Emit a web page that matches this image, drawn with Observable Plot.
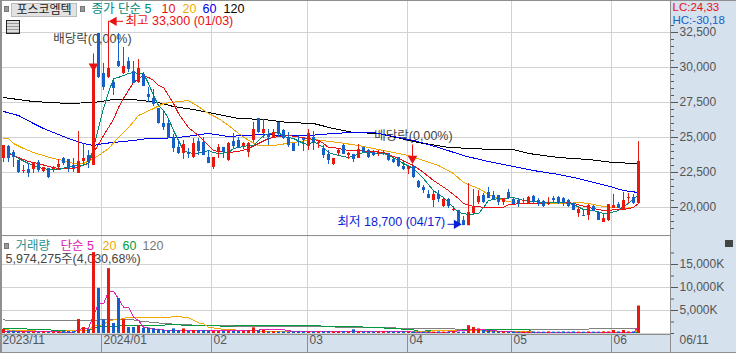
<!DOCTYPE html>
<html>
<head>
<meta charset="utf-8">
<script src="https://cdn.jsdelivr.net/npm/d3@7"></script>
<script src="https://cdn.jsdelivr.net/npm/@observablehq/plot@0.6"></script>
<style>
html,body{margin:0;padding:0;background:#d6e1ee;}
#wrap{position:relative;width:736px;height:353px;overflow:hidden;font-family:"Liberation Sans","Noto Sans CJK KR",sans-serif;}
#wrap svg{display:block;font-family:"Liberation Sans","Noto Sans CJK KR",sans-serif;}
.ov{position:absolute;box-sizing:border-box;}
</style>
</head>
<body>
<div id="wrap"></div>
<script>
const opens=[23500,24360,23930,23360,22570,22710,22710,23210,22570,22790,
22710,22860,23500,23430,23000,22430,23290,23710,23000,32430,
29570,29290,28930,30430,29570,30430,29710,28930,29500,28070,
27790,27070,26000,26000,25000,24290,23860,23930,23570,24710,
24640,23570,22860,23930,24290,23360,24710,24790,24360,23930,
24790,26360,25290,25210,25000,26070,25500,25000,24570,24710,
24930,24360,25000,24570,24210,23790,23070,23860,24430,23710,
23790,23500,24290,24070,23930,23790,23860,23860,23430,23570,
22930,22710,22930,21860,21430,20930,20500,20930,20070,20570,
19790,19790,19070,18700,19570,20360,20860,21070,20860,20860,
20360,21070,20570,20500,20430,20290,20790,20500,20430,20210,
20640,20710,20640,20500,20290,19570,19430,19430,20070,19640,
18930,19070,19930,20210,19790,20640,20710,20290];
const closes=[24430,23500,23570,22500,22640,22430,23140,22640,22860,22140,
22790,23070,23140,22790,22790,23290,23500,23210,29930,29290,
28570,29930,28500,30070,30070,29860,28860,29930,28640,27860,
27360,26000,25710,24930,24210,23860,24500,23790,24570,24000,
23710,23140,23570,24290,23930,24570,24360,24290,24570,24570,
25570,25360,25570,25000,25360,25210,24930,24430,24000,24640,
24790,25290,24640,24640,23710,23360,23500,24070,23790,23860,
23430,24140,23930,23570,23710,23860,23930,23360,23210,22930,
22710,22930,22140,21430,21210,20640,20930,20570,20570,20070,
19860,18710,18710,19640,20070,20790,20360,20640,20570,20360,
20640,20640,20210,20290,20500,20710,20360,20290,20070,20360,
20500,20290,20290,20070,19790,19860,19360,20140,19710,19070,
19210,20210,20140,19930,20500,20710,20290,23290];
const highs=[24430,24430,24070,23360,23000,23140,23210,23360,22860,22790,
22930,23430,23570,23430,23500,25430,24570,24070,29930,32430,
30290,33300,29210,32430,31430,30710,30430,30570,29640,28570,
28430,27070,26930,26210,25210,24790,24790,24210,24930,24930,
25000,24070,23570,24500,24290,24640,25290,25000,24640,24640,
26070,26360,26290,25570,25570,26070,25570,25360,24570,25140,
25000,25570,25430,24790,24430,24070,23500,24140,24500,23930,
23790,24500,24290,24140,24070,24070,24070,23860,23570,23570,
23360,22930,22930,21930,21570,21210,21210,21210,20640,20640,
20070,19790,19360,21710,21290,21210,21000,21430,21140,20860,
20640,21290,20640,20640,20640,20790,20860,20640,20500,20710,
20790,20790,20710,20570,20290,20000,19790,20210,20140,19710,
19500,20210,20930,20360,21070,21000,20930,24710];
const lows=[23210,23210,22860,22430,22430,22140,22430,22500,22500,22070,
22500,22640,23000,22500,22500,22430,22930,22790,23000,29210,
28360,29210,28000,30000,29500,29640,28860,28860,28640,27500,
27210,25950,25500,24930,23930,23790,23430,23500,23500,23710,
23710,23140,22710,23500,23500,23290,24210,24210,24140,23570,
24640,25290,24930,24430,24930,25000,24860,24290,24000,24360,
24000,24070,24070,24210,23500,23070,23000,23710,23790,23430,
23210,23500,23860,23500,23640,23640,23710,23290,23140,22860,
22640,22360,22070,21360,21000,20640,20000,20360,20000,19930,
19710,18700,18700,18700,19430,20210,20290,20640,20500,20140,
20140,20570,20140,20000,20290,20210,20290,20070,20000,20140,
20290,20210,20070,20000,19790,19290,19360,19070,19710,19070,
18930,19000,19930,19930,19790,20290,20210,20290];
const volumes=[870,540,500,400,300,300,300,300,300,250,
300,300,400,450,400,3040,1300,870,17600,9800,
3000,14100,2170,7600,3000,1300,1300,1700,1100,1200,
1000,900,650,650,1000,650,1000,500,650,650,
650,500,430,430,430,430,430,430,430,650,
1230,650,650,350,400,350,350,300,350,400,
350,350,300,350,350,400,300,350,350,300,
800,350,300,350,300,350,300,350,300,300,
350,300,350,300,300,350,300,350,300,300,
350,300,300,1700,1300,1000,650,650,400,350,
350,300,350,300,300,350,350,300,300,350,
300,300,350,300,350,300,300,350,300,300,
350,350,650,350,650,350,350,5974];

const ma5=[[1,23930],[3,23500],[5,23140],[7,22860],[9,22710],[11,22710],[14,23000],[16,23000],[17,23210],[18,24210],[19,25710],[20,27070],[21,28210],[22,29210],[23,29290],[24,29430],[25,29570],[26,29640],[27,29570],[28,29570],[29,28860],[30,28000],[31,27290],[32,26930],[33,26360],[34,25500],[35,24790],[36,24070],[37,23930],[38,23860],[40,23930],[41,24070],[42,23930],[43,23860],[45,23930],[46,24210],[47,24290],[48,24360],[49,24430],[50,24430],[52,25140],[54,25360],[55,25360],[56,25070],[58,24930],[60,24570],[61,24500],[62,24710],[64,24290],[65,23930],[67,23710],[69,23570],[72,23930],[76,23860],[78,23570],[80,23140],[82,22790],[84,22070],[86,21210],[88,20710],[90,20000],[91,19640],[93,19500],[95,19570],[96,20000],[97,20500],[99,20640],[100,20640],[102,20710],[104,20500],[106,20430],[108,20360],[110,20360],[112,20360],[114,20210],[116,19860],[118,19790],[120,19570],[121,19570],[123,19790],[124,20070],[125,20290],[126,20640],[127,20860]];
const ma10=[[1,23860],[3,23570],[5,23290],[7,23140],[9,22930],[11,22790],[14,22790],[17,23140],[18,23930],[19,24500],[20,25140],[21,25710],[22,26290],[23,27140],[24,27790],[25,28360],[26,28930],[28,29430],[29,29290],[30,29070],[31,28710],[32,28570],[34,27430],[35,26710],[37,25710],[39,25140],[41,24430],[42,24070],[43,24000],[45,23930],[47,24000],[49,24210],[51,24570],[53,24930],[55,25070],[57,25140],[61,24930],[63,24790],[64,24570],[65,24290],[66,24290],[69,24070],[71,24070],[76,23930],[79,23500],[82,23000],[84,22500],[86,21930],[89,21210],[91,20640],[92,20290],[94,20070],[97,20000],[100,20000],[101,20210],[104,20290],[113,20360],[114,20290],[117,20000],[120,19790],[124,19860],[126,20000],[127,20290]];
const ma20=[[0,24930],[1,24930],[2,24570],[4,24210],[6,23930],[8,23710],[10,23500],[12,23360],[14,23140],[16,23140],[18,23500],[19,23710],[21,24210],[23,25000],[25,25710],[27,26570],[30,27070],[32,27430],[35,27570],[37,27640],[39,27210],[41,26710],[43,26360],[45,25860],[47,25290],[49,24790],[51,24430],[54,24430],[58,24640],[62,24860],[67,24640],[71,24430],[76,24070],[81,23710],[84,23360],[87,23000],[90,22430],[92,21790],[95,21360],[97,20930],[100,20500],[103,20290],[113,20290],[115,20360],[117,20290],[120,20070],[124,19930],[126,20000],[127,20290]];
const ma60=[[0,26860],[3,26570],[6,26000],[8,25640],[10,25360],[13,24930],[16,24570],[18,24430],[20,24570],[26,24790],[29,24930],[31,24930],[35,25000],[38,25140],[41,25290],[45,25070],[48,25140],[51,25210],[57,25140],[61,25140],[66,25290],[70,25360],[74,25360],[82,24790],[87,24290],[92,23710],[96,23360],[99,23140],[102,22930],[106,22640],[111,22360],[115,22070],[119,21710],[122,21430],[124,21210],[127,21070]];
const ma120=[[0,27860],[3,27710],[6,27570],[13,27430],[18,27500],[22,27710],[26,27710],[31,27500],[34,27210],[38,27000],[41,26790],[47,26360],[52,26290],[57,26070],[62,26000],[66,25640],[70,25360],[75,25290],[83,24640],[89,24290],[98,24140],[102,24140],[105,23860],[111,23570],[117,23430],[122,23210],[127,23140]];

const vol5=[[0,500],[3,435],[14,290],[16,1160],[17,1160],[18,3900],[19,6450],[20,6450],[21,9000],[22,9200],[23,7540],[24,5730],[25,5730],[26,3550],[27,2830],[28,1380],[29,1160],[31,870],[33,650],[36,650],[42,650],[48,600],[50,700],[52,800],[56,800],[58,430],[70,430],[72,500],[80,350],[88,220],[93,800],[96,800],[98,600],[102,300],[126,250],[127,1400]];
const vol20=[[0,870],[2,650],[5,650],[8,435],[17,650],[18,1740],[20,1885],[21,2830],[23,3045],[25,3550],[33,3550],[35,3700],[37,3400],[39,2320],[40,2100],[41,1380],[43,1015],[48,650],[56,360],[73,360],[93,650],[97,500],[105,500],[106,290],[126,290],[127,700]];
const vol60=[[0,1160],[4,1160],[5,870],[9,870],[10,650],[17,725],[19,1450],[25,1740],[35,1885],[37,1740],[45,1600],[50,1740],[60,1740],[62,1670],[73,1380],[78,1090],[82,800],[83,500],[93,800],[97,870],[105,870],[106,290],[127,290]];
const vol120=[[0,2970],[1,2830],[17,2830],[21,3045],[26,2970],[28,2600],[33,2100],[41,1670],[60,1520],[77,1230],[87,1015],[97,900],[127,1015]];

const monthAt=[19.6,41.6,60.8,80.8,101.6,121.6];
const monthLabels=["2024/01","02","03","04","05","06"];
const priceTicks=[20000,22500,25000,27500,30000,32500];
const priceMinor=[18500,19000,19500,20500,21000,21500,22000,23000,23500,24000,24500,25500,26000,26500,27000,28000,28500,29000,29500,30500,31000,31500,32000,33000];
const volTicks=[5000,10000,15000];
const volMinor=[0,2500,7500,12500,17500];

const RED="#e8180f",BLUE="#1460c8",GRID="#d2d2d2",EDGE="#8f8f8f",TXT="#444",TICK="#555";
const idx=d3.range(opens.length);
const xDomain=[-0.6,133.4];
const colorOf=i=>closes[i]>=opens[i]?RED:BLUE;
const maLine=(arr,color)=>Plot.line(arr,{x:d=>d[0],y:d=>d[1],stroke:color,strokeWidth:1,shapeRendering:"crispEdges"});
const label=(text,dx,dy,fill)=>Plot.text([text],{frameAnchor:"top-left",dx,dy,fill,textAnchor:"start",lineAnchor:"middle",fontSize:12.5});

const price=Plot.plot({
  width:736,height:236,marginLeft:0,marginRight:66,marginTop:0,marginBottom:0,
  style:{background:"transparent",fontSize:"12px",overflow:"visible"},
  x:{domain:xDomain,axis:null},
  y:{domain:[17928.6,34785.7],axis:null},
  marks:[
    Plot.frame({fill:"white",stroke:null}),
    Plot.ruleY(priceTicks,{stroke:GRID,x1:xDomain[0],x2:xDomain[1]}),
    Plot.ruleX(monthAt,{stroke:GRID}),
    Plot.axisY(priceTicks,{anchor:"right",tickSize:7,tickPadding:2,stroke:TICK,fill:TICK,tickFormat:d3.format(","),fontSize:12}),
    Plot.axisY(priceMinor,{anchor:"right",tickSize:3,stroke:TICK,tickFormat:()=>""}),
    Plot.text(["배당락(0,00%)"],{x:[18],y:[32010],textAnchor:"middle",fill:TXT,fontSize:12.5,dx:-1}),
    Plot.text(["배당락(0,00%)"],{x:[82],y:[25080],textAnchor:"middle",fill:TXT,fontSize:12.5,dx:0}),
    maLine(ma120,"#000"),
    maLine(ma60,"#0000f0"),
    maLine(ma20,"#f0a800"),
    maLine(ma10,"#e81010"),
    maLine(ma5,"#008878"),
    Plot.ruleX(idx,{x:i=>i,y1:i=>lows[i],y2:i=>highs[i],stroke:colorOf,strokeWidth:1}),
    Plot.ruleX(idx,{x:i=>i,y1:i=>opens[i],y2:i=>closes[i],stroke:colorOf,strokeWidth:3}),
    Plot.link([0],{x1:18,x2:18,y1:31000,y2:29930,stroke:"#e81010"}),
    Plot.dot([0],{x:18,y:30090,symbol:"triangle",rotate:180,r:3.6,fill:"#e81010",stroke:null}),
    Plot.link([0],{x1:81.8,x2:81.8,y1:24500,y2:23500,stroke:"#e81010"}),
    Plot.dot([0],{x:81.8,y:23500,symbol:"triangle",rotate:180,r:3.6,fill:"#e81010",stroke:null}),
    Plot.link([0],{x1:23.9,x2:22.3,y1:33300,y2:33300,stroke:"#e81010"}),
    Plot.dot([0],{x:22.1,y:33300,symbol:"triangle",rotate:-90,r:3.4,fill:"#e81010",stroke:null}),
    Plot.text(["최고 33,300 (01/03)"],{x:[24.4],y:[33300],textAnchor:"start",fill:"#e81010",fontSize:12.5}),
    Plot.text(["최저 18,700 (04/17)"],{x:[66.8],y:[18990],textAnchor:"start",fill:"#0a1ed8",fontSize:12.5}),
    Plot.link([0],{x1:88.8,x2:90.6,y1:18800,y2:18800,stroke:"#0a1ed8"}),
    Plot.dot([0],{x:90.6,y:18800,symbol:"triangle",rotate:90,r:3.4,fill:"#0a1ed8",stroke:null}),
    label("종가 단순 5",91,8,"#008878"),
    label("10",161,8,"#e81010"),
    label("20",182,8,"#f0a800"),
    label("60",202,8,"#0000f0"),
    label("120",223,8,"#000"),
    Plot.text(["LC:24,33"],{frameAnchor:"top-right",dx:2,dy:7,textAnchor:"start",lineAnchor:"middle",fill:"#e81010",fontSize:11.5}),
    Plot.text(["HC:-30,18"],{frameAnchor:"top-right",dx:2,dy:19.5,textAnchor:"start",lineAnchor:"middle",fill:"#1460c8",fontSize:11.5}),
    Plot.ruleX([xDomain[1]],{stroke:EDGE}),
    Plot.ruleY([17928.6],{stroke:EDGE,dy:-1})
  ]
});

const volume=Plot.plot({
  width:736,height:117,marginLeft:0,marginRight:66,marginTop:0,marginBottom:19,
  style:{background:"transparent",fontSize:"12px",overflow:"visible"},
  x:{domain:xDomain,axis:null},
  y:{domain:[-217,21087],axis:null},
  marks:[
    Plot.frame({fill:"white",stroke:null}),
    Plot.ruleY([0,...volTicks],{stroke:GRID,x1:xDomain[0],x2:xDomain[1]}),
    Plot.ruleX(monthAt,{stroke:GRID}),
    Plot.axisY(volTicks,{anchor:"right",tickSize:7,tickPadding:2,stroke:TICK,fill:TICK,tickFormat:d=>d3.format(",")(d)+"K",fontSize:12}),
    Plot.axisY(volMinor,{anchor:"right",tickSize:3,stroke:TICK,tickFormat:()=>""}),
    label("거래량",15,9,"#2a9090"),
    label("단순 5",60,9,"#e020b0"),
    label("20",102,9,"#f0a800"),
    label("60",122,9,"#009a3c"),
    label("120",142,9,"#777"),
    label("5,974,275주(4,030,68%)",5,22,TXT),
    maLine(vol120,"#808080"),
    maLine(vol60,"#009a3c"),
    maLine(vol20,"#f0a800"),
    maLine(vol5,"#e020b0"),
    Plot.ruleX(idx,{x:i=>i,y1:0,y2:i=>volumes[i],stroke:colorOf,strokeWidth:3}),
    Plot.ruleX([xDomain[1]],{stroke:EDGE}),
    Plot.ruleY([-217],{stroke:EDGE}),
    Plot.ruleX(monthAt,{y1:-217,y2:-4350,stroke:EDGE,clip:false}),
    Plot.ruleX([xDomain[1]],{y1:-217,y2:-4350,stroke:EDGE}),
    Plot.text(monthLabels,{x:(d,i)=>monthAt[i],frameAnchor:"bottom",dy:9,dx:2,textAnchor:"start",fill:TICK,fontSize:12}),
    Plot.text(["2023/11"],{x:[-0.2],frameAnchor:"bottom",dy:9,textAnchor:"start",fill:TICK,fontSize:12}),
    Plot.text(["06/11"],{frameAnchor:"bottom-right",dx:9,dy:9,textAnchor:"start",fill:TICK,fontSize:12})
  ]
});

const wrap=document.getElementById("wrap");
wrap.appendChild(price);
wrap.appendChild(volume);

function ov(css,html){
  const d=document.createElement("div");
  d.className="ov";
  d.style.cssText=css;
  if(html) d.textContent=html;
  wrap.appendChild(d);
  return d;
}
ov("left:0;top:0;width:736px;height:353px;border-left:2px solid #8f8f8f;border-top:1px solid #8f8f8f;border-bottom:1px solid #8f8f8f;pointer-events:none;");
ov("left:4px;top:6px;width:5px;height:6px;background:#9a9a9a;border:1px solid #777;");
ov("left:11px;top:3px;width:66px;height:14px;background:#e2e2e2;border:1px solid #bbb;font-size:12px;line-height:12px;text-align:center;color:#222;","포스코엠텍");
ov("left:80px;top:6px;width:5px;height:6px;background:#9a9a9a;border:1px solid #777;");
ov("left:6px;top:20px;width:14px;height:14px;border:1px solid #222;background:repeating-linear-gradient(0deg,#999 0 1px,#ddd 1px 3px);");
ov("left:4px;top:243px;width:5px;height:6px;background:#9a9a9a;border:1px solid #777;");
ov("left:725px;top:240px;width:8px;height:7px;background:#444;");
</script>
</body>
</html>
